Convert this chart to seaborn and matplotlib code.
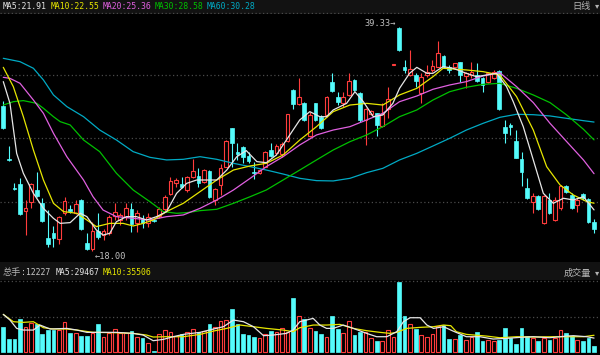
import numpy as np
import matplotlib
matplotlib.use("Agg")
import matplotlib.pyplot as plt
import seaborn as sns

# ---------------- data ----------------
opens = [31.81, 26.79, 24.03, 24.38, 21.84, 22.70, 23.81, 22.60, 19.21, 19.75,
         19.14, 21.59, 21.97, 21.59, 22.86, 18.79, 18.16, 19.94, 19.52, 19.68,
         21.33, 20.95, 21.27, 21.97, 20.63, 21.02, 20.70, 20.92, 21.33, 22.00,
         23.43, 24.44, 24.38, 23.81, 25.08, 25.14, 24.60, 25.65, 22.86, 24.29,
         26.03, 29.68, 27.46, 27.94, 27.05, 25.56, 25.46, 26.03, 27.62, 27.30,
         27.24, 28.51, 33.33, 32.00, 32.06, 28.95, 32.06, 30.79, 30.95, 34.06,
         32.70, 32.06, 32.86, 34.29, 33.08, 30.48, 31.05, 31.11, 29.90, 31.49,
         35.75, 39.20, 35.56, 34.76, 34.76, 33.08, 34.76, 35.24, 35.56, 36.57,
         35.56, 35.56, 35.97, 34.67, 34.76, 34.76, 34.44, 34.13, 34.44, 35.14,
         29.78, 30.00, 28.51, 26.73, 23.97, 22.70, 23.24, 20.70, 22.86, 20.95,
         22.06, 24.22, 23.33, 22.38, 23.43, 22.95, 20.79]
closes = [29.68, 26.63, 23.90, 21.49, 22.13, 24.38, 23.24, 20.86, 18.63, 19.21,
          21.27, 22.76, 21.81, 22.44, 20.06, 18.15, 19.90, 19.30, 19.90, 21.21,
          21.75, 21.43, 22.06, 20.57, 21.65, 20.70, 21.21, 20.86, 21.97, 23.11,
          24.70, 24.76, 24.06, 25.02, 25.62, 24.51, 25.71, 23.11, 23.87, 25.87,
          28.48, 28.32, 27.24, 26.98, 26.60, 25.46, 25.71, 27.46, 27.05, 28.00,
          28.19, 31.02, 32.00, 32.70, 30.48, 30.95, 30.48, 29.68, 32.70, 33.27,
          32.22, 32.63, 34.22, 33.33, 30.48, 31.49, 31.37, 30.00, 31.05, 32.51,
          35.75, 37.14, 35.24, 35.30, 34.22, 34.54, 35.08, 35.65, 36.83, 35.56,
          35.24, 35.87, 34.76, 34.92, 35.08, 34.19, 33.81, 34.92, 35.08, 31.49,
          29.21, 29.84, 26.89, 25.56, 23.02, 23.24, 21.97, 23.24, 21.65, 22.86,
          24.19, 23.65, 22.06, 22.86, 23.02, 20.79, 20.06]
highs = [32.32, 28.00, 24.44, 24.92, 22.86, 24.44, 25.49, 23.02, 21.90, 20.38,
         21.33, 23.17, 22.38, 22.86, 22.92, 19.68, 20.79, 21.65, 20.06, 21.43,
         22.60, 21.59, 22.54, 22.60, 21.90, 21.43, 21.59, 21.02, 22.22, 23.33,
         25.02, 24.92, 25.08, 25.14, 26.73, 25.87, 25.78, 25.71, 23.97, 26.29,
         28.57, 29.75, 28.25, 28.00, 27.46, 26.51, 25.78, 27.52, 28.25, 28.19,
         28.41, 31.05, 33.40, 34.44, 32.22, 31.27, 32.13, 30.95, 32.76, 34.92,
         33.17, 33.17, 34.92, 34.35, 33.17, 31.59, 31.43, 31.17, 32.06, 33.59,
         35.75, 39.33, 36.19, 37.14, 34.92, 34.92, 35.71, 36.19, 38.03, 36.67,
         35.71, 35.94, 36.03, 35.08, 36.03, 35.94, 34.60, 35.08, 35.24, 35.24,
         30.48, 30.22, 29.52, 27.46, 24.92, 23.49, 23.33, 23.33, 23.49, 23.11,
         24.29, 24.29, 23.49, 23.02, 23.56, 23.02, 21.02]
lows = [29.59, 26.57, 23.81, 21.43, 19.52, 22.13, 23.17, 20.79, 18.41, 18.41,
        18.67, 21.43, 21.65, 21.52, 20.00, 18.06, 18.00, 19.17, 19.05, 19.52,
        20.95, 20.48, 20.95, 19.84, 19.84, 20.16, 20.25, 20.76, 21.11, 21.75,
        23.33, 24.13, 23.97, 23.65, 24.92, 24.13, 24.44, 23.05, 22.38, 23.33,
        25.97, 26.03, 26.67, 26.41, 26.35, 24.83, 25.33, 25.97, 26.98, 27.14,
        26.92, 28.41, 31.49, 31.90, 30.41, 28.89, 30.41, 29.59, 30.79, 33.17,
        31.90, 31.68, 32.76, 33.27, 30.32, 28.10, 30.95, 28.95, 29.84, 30.63,
        35.75, 37.05, 34.92, 34.67, 33.65, 32.13, 34.54, 35.08, 35.49, 35.40,
        34.92, 35.40, 34.13, 33.49, 34.44, 34.13, 33.17, 34.03, 34.35, 31.43,
        28.25, 29.05, 26.83, 24.19, 22.95, 21.59, 21.90, 20.57, 21.52, 20.89,
        21.90, 23.56, 21.97, 21.75, 22.86, 20.70, 19.68]
volumes = [54000, 27400, 27400, 70600, 52600, 61200, 59000, 37400, 46800, 46800,
           46800, 63400, 41000, 39600, 33800, 33800, 39600, 59000, 31000, 39600,
           49000, 39600, 39600, 43900, 31700, 30200, 18000, 1400, 37400, 46100,
           41800, 34600, 38900, 41800, 49000, 41800, 45400, 59000, 54000, 66200,
           67700, 92200, 59000, 37400, 36000, 32400, 28800, 38900, 44600, 41800,
           51800, 41800, 115200, 77000, 69800, 51800, 44600, 37400, 31700, 77000,
           49000, 39600, 67000, 36000, 43200, 41800, 28800, 23800, 23000, 46100,
           31700, 151200, 77000, 59800, 48200, 36000, 31000, 37400, 56200, 57600,
           27400, 27400, 36000, 25200, 32400, 42500, 23800, 25200, 22300, 24500,
           51100, 28800, 16600, 51100, 33800, 28800, 23800, 30200, 25200, 28800,
           46100, 41000, 33800, 25200, 23800, 28800, 12227]

# moving-average lines (candle position, value)
ma5_x = [0, 1.2, 2.4, 3.6, 5.4, 7.2, 9.0, 10.2, 12.0, 13.8, 15.0, 16.7, 17.9, 19.1, 20.3, 22.1, 23.9,
         25.7, 27.5, 29.3, 31.1, 32.9, 34.7, 38.3, 40.1, 41.9, 43.6, 45.5, 47.2, 49.0, 50.8, 53.2,
         55.0, 56.8, 58.0, 59.2, 61.6, 63.1, 64.6, 66.4, 68.1, 69.9, 71.1, 72.9, 74.2, 76.0, 77.1,
         78.9, 80.7, 83.1, 84.9, 86.7, 88.5, 90.3, 91.5, 93.3, 95.1, 96.9, 98.7, 100.5, 102.3, 104.1, 106]
ma5_v = [34.13, 32.06, 27.30, 25.40, 23.49, 22.06, 21.11, 20.63, 20.70, 21.59, 21.27, 20.00, 19.52,
         19.68, 20.79, 21.27, 21.27, 20.95, 21.27, 21.75, 23.49, 24.44, 24.76, 24.76, 25.71, 26.98,
         27.56, 26.51, 26.41, 27.14, 28.57, 30.48, 31.27, 30.79, 30.79, 31.43, 32.06, 33.17, 32.22,
         30.79, 30.95, 32.06, 33.49, 34.92, 35.49, 34.92, 34.92, 35.56, 35.40, 34.92, 34.60, 34.76,
         34.92, 33.65, 32.22, 29.84, 26.67, 23.49, 22.54, 23.02, 22.86, 23.17, 21.91]
ma10_x = [0, 1.8, 3.6, 5.4, 7.2, 9.0, 10.8, 13.2, 15.0, 16.7, 19.1, 21.5, 23.3, 25.1, 26.9, 29.3,
          32.3, 35.3, 38.3, 41.3, 44.3, 47.2, 50.2, 53.2, 56.2, 59.2, 62.2, 65.2, 68.1, 71.1, 74.2,
          77.1, 78.9, 83.1, 86.1, 89.1, 92.1, 95.1, 97.5, 99.9, 102.3, 104.7, 106]
ma10_v = [35.49, 33.65, 30.79, 27.62, 24.76, 22.54, 21.75, 21.59, 20.95, 20.32, 20.63, 20.63, 20.38,
          20.63, 20.95, 21.75, 22.54, 23.65, 24.76, 25.71, 26.10, 26.35, 27.14, 28.57, 29.84, 31.27,
          31.90, 32.06, 31.90, 32.86, 33.49, 34.60, 35.40, 35.24, 35.08, 34.76, 32.70, 29.52, 26.03,
          24.29, 23.33, 22.70, 22.55]
ma20_x = [0, 1.2, 3.0, 5.4, 7.2, 9.0, 11.4, 14.4, 16.1, 17.9, 20.3, 23.3, 26.3, 29.3, 32.3, 35.3,
          38.3, 41.3, 44.3, 47.2, 50.2, 53.2, 56.2, 59.2, 62.2, 65.2, 68.1, 71.1, 74.2, 77.1, 80.1,
          83.1, 86.1, 89.1, 92.1, 95.1, 98.1, 101.1, 104.1, 106]
ma20_v = [34.54, 34.44, 33.97, 32.38, 31.11, 29.21, 26.98, 24.76, 23.17, 21.90, 21.27, 21.11, 20.95,
          21.27, 21.43, 22.06, 22.86, 23.81, 24.92, 26.03, 26.98, 28.10, 29.05, 29.52, 29.84, 30.48,
          31.11, 32.22, 32.76, 33.40, 33.81, 34.13, 34.67, 34.98, 33.65, 32.13, 30.16, 28.41, 26.67, 25.36]
ma30_x = [0, 1.8, 3.6, 6.0, 7.2, 9.0, 10.2, 12.0, 14.4, 17.3, 20.3, 23.3, 26.3, 28.7, 31.1, 32.9,
          35.3, 38.3, 41.3, 44.3, 47.2, 50.2, 53.2, 56.2, 59.2, 62.2, 65.2, 68.1, 71.1, 74.2, 77.1,
          80.1, 83.1, 86.1, 89.1, 92.1, 95.1, 98.1, 101.1, 104.1, 106]
ma30_v = [31.90, 32.22, 32.32, 32.06, 31.59, 30.79, 30.32, 30.00, 28.57, 27.46, 25.40, 23.81, 22.70,
          21.75, 21.59, 21.65, 21.84, 21.97, 22.54, 23.17, 23.81, 24.76, 25.71, 26.67, 27.62, 28.41,
          29.05, 29.84, 30.79, 31.43, 32.38, 33.17, 33.59, 33.87, 33.97, 33.49, 32.86, 32.13, 30.95,
          29.59, 28.58]
ma60_x = [0, 3.0, 5.4, 7.2, 9.0, 11.4, 14.4, 17.3, 20.3, 23.3, 26.3, 29.3, 32.3, 35.3, 38.3, 41.3,
          44.3, 47.2, 50.2, 53.2, 56.2, 59.2, 62.2, 65.2, 68.1, 71.1, 74.2, 77.1, 80.1, 83.1, 86.1,
          89.1, 92.1, 95.1, 98.1, 101.1, 104.1, 106]
ma60_v = [36.35, 36.03, 35.40, 34.29, 32.86, 31.75, 30.79, 29.52, 28.57, 27.46, 26.92, 26.67, 26.73,
          26.98, 26.73, 26.35, 26.03, 25.71, 25.33, 24.92, 24.70, 24.67, 24.92, 25.46, 25.87, 26.67,
          27.30, 28.00, 28.73, 29.52, 30.16, 30.73, 31.02, 30.98, 30.86, 30.63, 30.41, 30.28]

vma5_x = [0, 1.2, 2.4, 3.6, 5.4, 6.6, 8.4, 11.4, 13.2, 15.0, 17.3, 20.3, 23.3, 25.1, 26.9, 28.7,
          30.5, 32.3, 35.3, 37.7, 39.5, 41.3, 43.1, 44.9, 46.7, 48.4, 50.8, 52.0, 53.2, 55.6, 56.8,
          58.0, 59.2, 61.0, 62.8, 65.2, 67.0, 68.8, 70.6, 71.8, 73.0, 74.8, 76.0, 77.2, 79.0, 80.7,
          83.1, 85.5, 87.9, 90.3, 92.7, 95.1, 98.0, 101.1, 102.3, 104.7, 106]
vma5_v = [80600, 68400, 50400, 46800, 46800, 57600, 49000, 50400, 46800, 41800, 41800, 41800, 39600,
          36000, 23800, 26600, 32400, 37400, 41800, 49000, 54000, 68400, 64800, 54000, 34600, 36000,
          39600, 46800, 64800, 72000, 57600, 50400, 50400, 57600, 50400, 39600, 32400, 32400, 43200,
          64800, 73400, 73400, 57600, 50400, 54000, 44600, 32400, 32400, 27400, 28800, 31000, 32400,
          30200, 33800, 34600, 32400, 29467]
vma10_x = [0, 1.8, 3.6, 5.4, 7.2, 9.0, 11.4, 13.2, 16.1, 20.3, 23.3, 25.7, 26.9, 29.3, 32.3, 35.3,
           37.7, 40.1, 42.5, 44.9, 47.2, 50.2, 52.0, 53.2, 55.6, 58.0, 60.4, 62.8, 65.2, 67.6, 69.4,
           70.6, 72.4, 74.8, 77.2, 79.0, 80.3, 81.3, 83.1, 86.7, 89.1, 92.1, 95.1, 98.7, 101.1, 104.1, 106]
vma10_v = [80600, 64800, 63400, 64800, 51800, 49000, 49000, 46800, 41800, 41000, 39600, 36000, 31700,
           32400, 32400, 37400, 44600, 50400, 57600, 54000, 50400, 46800, 43200, 51800, 57600, 57600,
           59000, 50400, 45400, 41800, 39600, 41800, 50400, 52600, 54000, 57600, 56200, 43200, 37400,
           33800, 30200, 32400, 31700, 32400, 32400, 32400, 35506]

ma_labels = ["MA5:21.91", "MA10:22.55", "MA20:25.36", "MA30:28.58", "MA60:30.28"]
vol_labels = ["MA5:29467", "MA10:35506"]

# ---------------- style ----------------
sns.set_theme(style="dark", rc={"figure.facecolor": "black", "axes.facecolor": "black"})
plt.rcParams["font.family"] = ["DejaVu Sans Mono", "Noto Sans CJK SC"]

RED = "#ff3c3c"
CYAN = "#54fcfc"
C_MA5, C_MA10, C_MA20, C_MA30, C_MA60 = "#e6e6e6", "#e6e600", "#e060e0", "#00c000", "#00aac4"
GRID = "#4a4a4a"

W, H = 600.0, 355.0
fig = plt.figure(figsize=(6, 3.55), dpi=100)
fig.patch.set_facecolor("black")


def box(top, bottom):
    return [0, (H - bottom) / H, 1, (bottom - top) / H]


def clean(ax, fc="black"):
    ax.set_facecolor(fc)
    ax.set_xticks([])
    ax.set_yticks([])
    ax.grid(False)
    for s in ax.spines.values():
        s.set_visible(False)


ax_hdr = fig.add_axes(box(0, 14))
ax_p = fig.add_axes(box(14, 262))
ax_vh = fig.add_axes(box(262, 280))
ax_v = fig.add_axes(box(280, 355))
for a, fc in [(ax_hdr, "#121212"), (ax_p, "black"), (ax_vh, "#121212"), (ax_v, "black")]:
    clean(a, fc)

o = np.array(opens); c = np.array(closes); h = np.array(highs); l = np.array(lows)
v = np.array(volumes)
idx = np.arange(len(c))
up = c >= o
XL = (-0.59, 107.07)

# ---------------- price panel ----------------
ax_p.set_xlim(*XL)
ax_p.set_ylim(16.95, 40.57)
for gy in [34.76, 28.73, 22.70]:
    ax_p.axhline(gy, color=GRID, lw=0.9, ls=(0, (1, 2)), zorder=0)

ax_p.vlines(idx, l, h, colors=np.where(up, RED, CYAN), lw=0.8, zorder=2)
bot = np.minimum(o, c)
bh = np.maximum(np.abs(c - o), 0.04)
ax_p.bar(idx[up], bh[up], bottom=bot[up], width=0.66, facecolor="black",
         edgecolor=RED, linewidth=0.8, zorder=3)
ax_p.bar(idx[~up], bh[~up], bottom=bot[~up], width=0.66, facecolor=CYAN,
         edgecolor=CYAN, linewidth=0.5, zorder=3)

for xs, ys, col in [(ma60_x, ma60_v, C_MA60), (ma30_x, ma30_v, C_MA30), (ma20_x, ma20_v, C_MA20),
                    (ma10_x, ma10_v, C_MA10), (ma5_x, ma5_v, C_MA5)]:
    sns.lineplot(x=xs, y=ys, ax=ax_p, color=col, lw=0.9, sort=False, estimator=None, zorder=4)
ax_p.set_xlabel(""); ax_p.set_ylabel("")

imax = int(np.argmax(h)); imin = int(np.argmin(l))
ax_p.text(imax - 0.5, h[imax] + 0.3, f"{h[imax]:.2f}→", color="#c0c0c0", fontsize=6.2,
          ha="right", va="center", family=["DejaVu Sans Mono"], zorder=5)
ax_p.text(imin + 0.4, l[imin] - 0.48, f"←{l[imin]:.2f}", color="#c0c0c0", fontsize=6.2,
          ha="left", va="center", family=["DejaVu Sans Mono"], zorder=5)

# ---------------- volume panel ----------------
ax_v.set_xlim(*XL)
ax_v.set_ylim(-7100, 154900)
ax_v.axhline(75600, color=GRID, lw=0.9, ls=(0, (1, 2)), zorder=0)
ax_v.axhline(152500, color=GRID, lw=0.9, ls=(0, (1, 2)), zorder=0)
ax_v.bar(idx[up], v[up], width=0.66, facecolor="black", edgecolor=RED, linewidth=0.8, zorder=3)
ax_v.bar(idx[~up], v[~up], width=0.66, facecolor=CYAN, edgecolor=CYAN, linewidth=0.5, zorder=3)
sns.lineplot(x=vma10_x, y=vma10_v, ax=ax_v, color=C_MA10, lw=0.9, sort=False, estimator=None, zorder=4)
sns.lineplot(x=vma5_x, y=vma5_v, ax=ax_v, color=C_MA5, lw=0.9, sort=False, estimator=None, zorder=4)
ax_v.set_xlabel(""); ax_v.set_ylabel("")

# ---------------- header texts ----------------
ax_hdr.axhline(0.04, color=GRID, lw=0.9, ls=(0, (1, 2)))
ax_hdr.set_xlim(0, 1); ax_hdr.set_ylim(0, 1)


def ftext(x, y, s, col, size, fam, ha="left"):
    fig.text(x / W, 1 - y / H, s, color=col, fontsize=size, family=fam, ha=ha, va="center")


mono = ["DejaVu Sans Mono"]
cjk = ["Noto Sans CJK SC", "DejaVu Sans"]
for x0, s, col in zip([3, 51, 103, 155, 207], ma_labels, [C_MA5, C_MA10, C_MA20, C_MA30, C_MA60]):
    ftext(x0, 6.5, s, col, 5.9, mono)
ftext(591, 6, "日线", "#b4b4b4", 6.6, cjk, ha="right")
ftext(599, 6, "▾", "#b4b4b4", 6.0, ["DejaVu Sans"], ha="right")

ftext(3, 272.5, "总手", "#b4b4b4", 6.6, cjk)
ftext(21, 272.5, ":12227", "#c8c8c8", 5.9, mono)
ftext(56, 272.5, vol_labels[0], "#e6e6e6", 5.9, mono)
ftext(103, 272.5, vol_labels[1], C_MA10, 5.9, mono)
ftext(591, 273, "成交量", "#b4b4b4", 6.6, cjk, ha="right")
ftext(599, 273, "▾", "#b4b4b4", 6.0, ["DejaVu Sans"], ha="right")

fig.savefig("out.png", dpi=100, facecolor="black")
